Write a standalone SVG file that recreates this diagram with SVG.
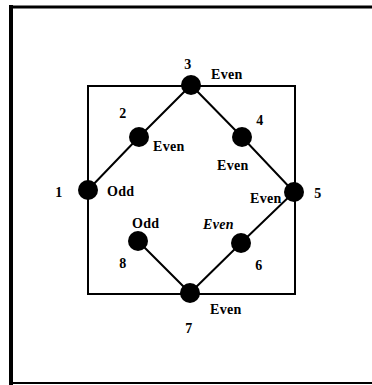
<svg xmlns="http://www.w3.org/2000/svg" width="372" height="385" viewBox="0 0 372 385">
<style>
.t{font-family:"Liberation Serif","Times New Roman",serif;font-weight:bold;font-size:14px;letter-spacing:0.3px;fill:#000}
.e{stroke:#000;stroke-width:2;fill:none}
.n{fill:#000}
</style>
<rect width="372" height="385" fill="#fff"/>
<g id="frame" stroke="#000" fill="none">
<line x1="11" y1="5" x2="11" y2="385" stroke-width="4"/>
<line x1="9" y1="7" x2="372" y2="7" stroke-width="3"/>
<line x1="11" y1="383" x2="372" y2="383" stroke-width="2"/>
</g>
<g id="connectors" class="e">
<rect x="88" y="86" width="207" height="208"/>
<polyline points="88,190 139,137 191,85 242,137 294,192 241,243 190,293 138,241"/>
</g>
<g id="n1"><circle class="n" cx="88" cy="190" r="10"/><text class="t" x="59" y="197" text-anchor="middle">1</text><text class="t" x="107" y="196">Odd</text></g>
<g id="n2"><circle class="n" cx="139" cy="137" r="10"/><text class="t" x="123" y="118" text-anchor="middle">2</text><text class="t" x="153" y="151">Even</text></g>
<g id="n3"><circle class="n" cx="191" cy="85" r="10"/><text class="t" x="188" y="69" text-anchor="middle">3</text><text class="t" x="211" y="79">Even</text></g>
<g id="n4"><circle class="n" cx="242" cy="137" r="10"/><text class="t" x="260" y="125" text-anchor="middle">4</text><text class="t" x="217" y="170">Even</text></g>
<g id="n5"><circle class="n" cx="294" cy="192" r="10"/><text class="t" x="318" y="198" text-anchor="middle">5</text><text class="t" x="250" y="203">Even</text></g>
<g id="n6"><circle class="n" cx="241" cy="243" r="10"/><text class="t" x="259" y="270" text-anchor="middle">6</text><text class="t" x="203" y="229" font-style="italic">Even</text></g>
<g id="n7"><circle class="n" cx="190" cy="293" r="10"/><text class="t" x="189" y="333" text-anchor="middle">7</text><text class="t" x="210" y="314">Even</text></g>
<g id="n8"><circle class="n" cx="138" cy="241" r="10"/><text class="t" x="123" y="268" text-anchor="middle">8</text><text class="t" x="132" y="228">Odd</text></g>
</svg>
